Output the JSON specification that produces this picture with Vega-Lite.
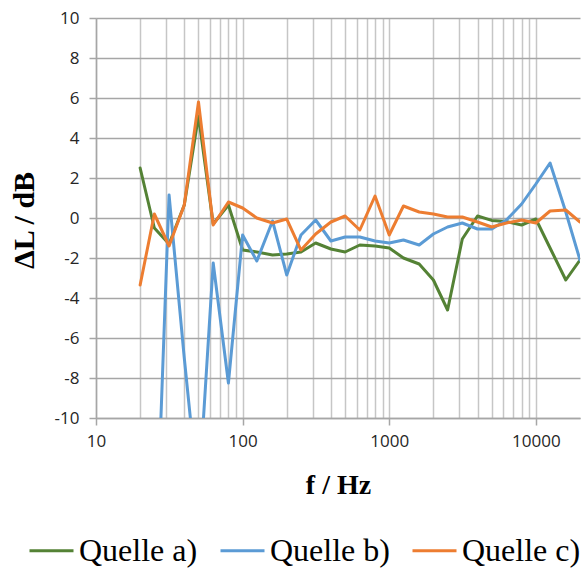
{
  "$schema": "https://vega.github.io/schema/vega-lite/v6.json",
  "width": 484,
  "height": 400,
  "autosize": {"type": "none"},
  "padding": {"left": 96, "top": 18, "right": 6, "bottom": 150},
  "background": "white",
  "config": {"view": {"stroke": null}},
  "data": {
    "values": [
      {"f": 20, "q": "Quelle a)", "v": 2.5},
      {"f": 25, "q": "Quelle a)", "v": -0.5},
      {"f": 31.5, "q": "Quelle a)", "v": -1.3},
      {"f": 40, "q": "Quelle a)", "v": 0.65},
      {"f": 50, "q": "Quelle a)", "v": 5.1},
      {"f": 63, "q": "Quelle a)", "v": -0.3},
      {"f": 80, "q": "Quelle a)", "v": 0.65},
      {"f": 100, "q": "Quelle a)", "v": -1.6},
      {"f": 125, "q": "Quelle a)", "v": -1.7},
      {"f": 160, "q": "Quelle a)", "v": -1.85},
      {"f": 200, "q": "Quelle a)", "v": -1.8},
      {"f": 250, "q": "Quelle a)", "v": -1.7},
      {"f": 315, "q": "Quelle a)", "v": -1.25},
      {"f": 400, "q": "Quelle a)", "v": -1.55},
      {"f": 500, "q": "Quelle a)", "v": -1.7},
      {"f": 630, "q": "Quelle a)", "v": -1.35},
      {"f": 800, "q": "Quelle a)", "v": -1.4},
      {"f": 1000, "q": "Quelle a)", "v": -1.5},
      {"f": 1250, "q": "Quelle a)", "v": -2.0},
      {"f": 1600, "q": "Quelle a)", "v": -2.3},
      {"f": 2000, "q": "Quelle a)", "v": -3.1},
      {"f": 2500, "q": "Quelle a)", "v": -4.6},
      {"f": 3150, "q": "Quelle a)", "v": -1.05},
      {"f": 4000, "q": "Quelle a)", "v": 0.1},
      {"f": 5000, "q": "Quelle a)", "v": -0.12},
      {"f": 6300, "q": "Quelle a)", "v": -0.18},
      {"f": 8000, "q": "Quelle a)", "v": -0.35},
      {"f": 10000, "q": "Quelle a)", "v": -0.05},
      {"f": 12500, "q": "Quelle a)", "v": -1.5},
      {"f": 16000, "q": "Quelle a)", "v": -3.1},
      {"f": 20000, "q": "Quelle a)", "v": -2.1},
      {"f": 25, "q": "Quelle b)", "v": -19},
      {"f": 31.5, "q": "Quelle b)", "v": 1.15},
      {"f": 40, "q": "Quelle b)", "v": -7.0},
      {"f": 50, "q": "Quelle b)", "v": -14},
      {"f": 63, "q": "Quelle b)", "v": -2.25},
      {"f": 80, "q": "Quelle b)", "v": -8.25},
      {"f": 100, "q": "Quelle b)", "v": -0.85},
      {"f": 125, "q": "Quelle b)", "v": -2.15},
      {"f": 160, "q": "Quelle b)", "v": -0.15},
      {"f": 200, "q": "Quelle b)", "v": -2.85},
      {"f": 250, "q": "Quelle b)", "v": -0.85},
      {"f": 315, "q": "Quelle b)", "v": -0.1},
      {"f": 400, "q": "Quelle b)", "v": -1.15},
      {"f": 500, "q": "Quelle b)", "v": -0.95},
      {"f": 630, "q": "Quelle b)", "v": -0.95},
      {"f": 800, "q": "Quelle b)", "v": -1.15},
      {"f": 1000, "q": "Quelle b)", "v": -1.25},
      {"f": 1250, "q": "Quelle b)", "v": -1.1},
      {"f": 1600, "q": "Quelle b)", "v": -1.35},
      {"f": 2000, "q": "Quelle b)", "v": -0.8},
      {"f": 2500, "q": "Quelle b)", "v": -0.45},
      {"f": 3150, "q": "Quelle b)", "v": -0.25},
      {"f": 4000, "q": "Quelle b)", "v": -0.55},
      {"f": 5000, "q": "Quelle b)", "v": -0.55},
      {"f": 6300, "q": "Quelle b)", "v": -0.1},
      {"f": 8000, "q": "Quelle b)", "v": 0.7},
      {"f": 10000, "q": "Quelle b)", "v": 1.7},
      {"f": 12500, "q": "Quelle b)", "v": 2.75},
      {"f": 16000, "q": "Quelle b)", "v": 0.3},
      {"f": 20000, "q": "Quelle b)", "v": -2.1},
      {"f": 20, "q": "Quelle c)", "v": -3.35},
      {"f": 25, "q": "Quelle c)", "v": 0.2},
      {"f": 31.5, "q": "Quelle c)", "v": -1.4},
      {"f": 40, "q": "Quelle c)", "v": 0.65},
      {"f": 50, "q": "Quelle c)", "v": 5.8},
      {"f": 63, "q": "Quelle c)", "v": -0.35},
      {"f": 80, "q": "Quelle c)", "v": 0.8},
      {"f": 100, "q": "Quelle c)", "v": 0.5},
      {"f": 125, "q": "Quelle c)", "v": 0.0},
      {"f": 160, "q": "Quelle c)", "v": -0.25},
      {"f": 200, "q": "Quelle c)", "v": -0.05},
      {"f": 250, "q": "Quelle c)", "v": -1.6},
      {"f": 315, "q": "Quelle c)", "v": -0.8},
      {"f": 400, "q": "Quelle c)", "v": -0.2},
      {"f": 500, "q": "Quelle c)", "v": 0.1},
      {"f": 630, "q": "Quelle c)", "v": -0.6},
      {"f": 800, "q": "Quelle c)", "v": 1.1},
      {"f": 1000, "q": "Quelle c)", "v": -0.85},
      {"f": 1250, "q": "Quelle c)", "v": 0.6},
      {"f": 1600, "q": "Quelle c)", "v": 0.3},
      {"f": 2000, "q": "Quelle c)", "v": 0.2},
      {"f": 2500, "q": "Quelle c)", "v": 0.05},
      {"f": 3150, "q": "Quelle c)", "v": 0.05},
      {"f": 4000, "q": "Quelle c)", "v": -0.2},
      {"f": 5000, "q": "Quelle c)", "v": -0.45},
      {"f": 6300, "q": "Quelle c)", "v": -0.25},
      {"f": 8000, "q": "Quelle c)", "v": -0.1},
      {"f": 10000, "q": "Quelle c)", "v": -0.25},
      {"f": 12500, "q": "Quelle c)", "v": 0.35},
      {"f": 16000, "q": "Quelle c)", "v": 0.4},
      {"f": 20000, "q": "Quelle c)", "v": -0.2}
    ]
  },
  "mark": {"type": "line", "clip": true, "strokeWidth": 3, "strokeJoin": "round", "strokeCap": "round"},
  "encoding": {
    "x": {
      "field": "f",
      "type": "quantitative",
      "scale": {"type": "log", "domain": [10, 20000], "nice": false},
      "axis": {
        "title": "f / Hz",
        "titleFont": "Liberation Serif",
        "titleFontWeight": "bold",
        "titleFontSize": 28,
        "titleColor": "#000000",
        "titleX": 242,
        "titleY": 75,
        "titleAlign": "center",
        "titleBaseline": "alphabetic",
        "values": [10, 20, 30, 40, 50, 60, 70, 80, 90, 100, 200, 300, 400, 500, 600, 700, 800, 900, 1000, 2000, 3000, 4000, 5000, 6000, 7000, 8000, 9000, 10000],
        "format": "d",
        "labelExpr": "indexof([10,100,1000,10000], datum.value) >= 0 ? datum.label : ''",
        "labelOverlap": false,
        "labelFont": "Open Sans",
        "labelFontSize": 17,
        "labelColor": "#262626",
        "labelPadding": 8,
        "labelFlush": false,
        "grid": true,
        "gridColor": "#c6c6c6",
        "gridWidth": 1.5,
        "tickSize": 7,
        "tickColor": "#a6a6a6",
        "tickWidth": 1.5,
        "tickOpacity": {"condition": {"test": "indexof([10,100,1000,10000], datum.value) >= 0", "value": 1}, "value": 0},
        "domainColor": "#a6a6a6",
        "domainWidth": 1.5
      }
    },
    "y": {
      "field": "v",
      "type": "quantitative",
      "scale": {"domain": [-10, 10], "nice": false, "zero": false},
      "axis": {
        "title": "ΔL / dB",
        "titleFont": "Liberation Serif",
        "titleFontWeight": "bold",
        "titleFontSize": 30,
        "titleColor": "#000000",
        "titleX": -72,
        "titleY": 202,
        "titleAlign": "center",
        "titleBaseline": "middle",
        "values": [-10, -8, -6, -4, -2, 0, 2, 4, 6, 8, 10],
        "labelExpr": "'' + datum.value",
        "labelFont": "Open Sans",
        "labelFontSize": 17,
        "labelColor": "#262626",
        "labelPadding": 10,
        "labelFlush": false,
        "grid": true,
        "gridColor": "#a6a6a6",
        "gridWidth": 1.5,
        "tickSize": 7,
        "tickColor": "#a6a6a6",
        "tickWidth": 1.5,
        "domainColor": "#a6a6a6",
        "domainWidth": 1.5
      }
    },
    "color": {
      "field": "q",
      "type": "nominal",
      "scale": {"domain": ["Quelle a)", "Quelle b)", "Quelle c)"], "range": ["#548235", "#5b9bd5", "#ed7d31"]},
      "legend": {
        "title": null,
        "orient": "none",
        "direction": "horizontal",
        "legendX": -68,
        "legendY": 509,
        "symbolType": "stroke",
        "symbolSize": 1936,
        "symbolStrokeWidth": 3,
        "labelFont": "Liberation Serif",
        "labelFontSize": 32,
        "labelColor": "#000000",
        "labelOffset": 4,
        "columnPadding": 16,
        "labelLimit": 300
      }
    }
  }
}
